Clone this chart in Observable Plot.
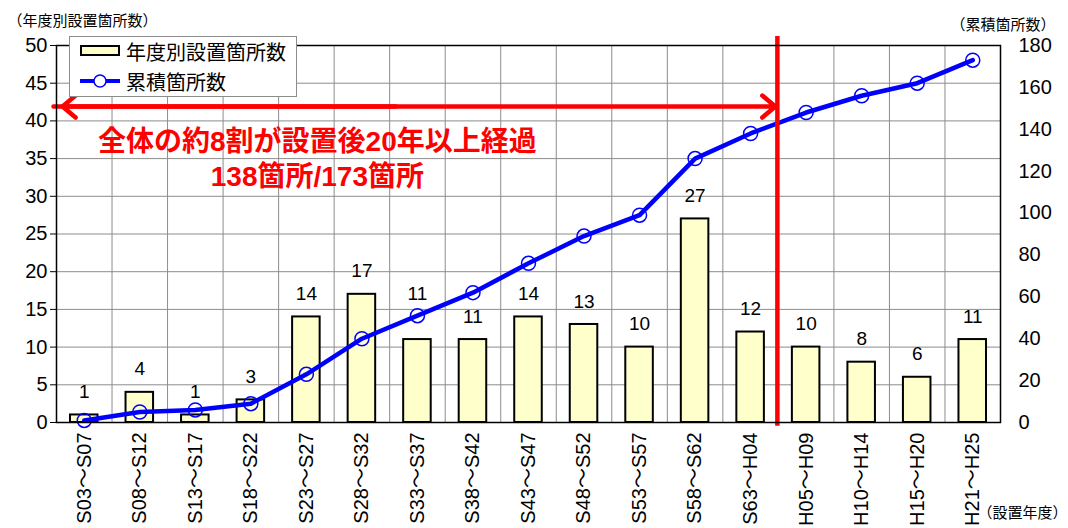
<!DOCTYPE html>
<html><head><meta charset="utf-8">
<script src="https://cdn.jsdelivr.net/npm/d3@7"></script>
<script src="https://cdn.jsdelivr.net/npm/@observablehq/plot@0.6"></script>
<style>
body{margin:0;background:#fff;font-family:"Liberation Sans","Noto Sans CJK JP",sans-serif;}
#wrap{position:relative;width:1068px;height:528px;overflow:hidden;}
#legend{position:absolute;left:69px;top:36px;width:226px;height:59px;border:1px solid #8c8c8c;background:#fff;}
.li{position:absolute;left:10px;height:24px;display:flex;align-items:center;font-size:20px;color:#000;white-space:nowrap;}
.li svg{margin-right:6px;}
</style></head>
<body><div id="wrap"><div id="chart"></div>
<div id="legend">
  <div class="li" style="top:2px;"><svg width="40" height="14"><rect x="1" y="2" width="38" height="9" fill="#ffffcc" stroke="#000" stroke-width="2"/></svg><span id="lg1"></span></div>
  <div class="li" style="top:32px;"><svg width="40" height="16"><line x1="0" y1="8" x2="40" y2="8" stroke="blue" stroke-width="4"/><circle cx="20" cy="8" r="6" fill="#fff" stroke="blue" stroke-width="1.5"/></svg><span id="lg2"></span></div>
</div>
</div>
<script>
const periods = ["S03～S07","S08～S12","S13～S17","S18～S22","S23～S27","S28～S32","S33～S37","S38～S42","S43～S47","S48～S52","S53～S57","S58～S62","S63～H04","H05～H09","H10～H14","H15～H20","H21～H25"];
const annualCounts = [1,4,1,3,14,17,11,11,14,13,10,27,12,10,8,6,11];
const cumulativeCounts = [1,5,6,9,23,40,51,62,76,89,99,126,138,148,156,162,173];
const leftTicks = [0,5,10,15,20,25,30,35,40,45,50];
const rightTicks = [0,20,40,60,80,100,120,140,160,180];
const seriesNames = ["年度別設置箇所数","累積箇所数"];
const leftTitle = "（年度別設置箇所数）";
const rightTitle = "（累積箇所数）";
const xTitle = "（設置年度）";
const annotationLines = ["全体の約8割が設置後20年以上経過","138箇所/173箇所"];
const annotationY = [37.2, 32.5];
const arrowY = 41.9;
const thresholdPeriod = "H05～H09";
const raisedLabelPeriod = "S33～S37";

document.getElementById("lg1").textContent = seriesNames[0];
document.getElementById("lg2").textContent = seriesNames[1];

const data = periods.map((p,i)=>({period:p, count:annualCounts[i], cum:cumulativeCounts[i]}));
const W=1068,H=528,ML=56,MR=68,MT=45,MB=106;
const bw=(W-ML-MR)/periods.length;
const toLeft = v => v*50/180;
const font = '"Liberation Sans","Noto Sans CJK JP",sans-serif';

const chart = Plot.plot({
  width:W,height:H,marginLeft:ML,marginRight:MR,marginTop:MT,marginBottom:MB,
  style:{fontFamily:font,fontSize:"18px",background:"white",color:"black",overflow:"visible"},
  x:{domain:periods,padding:0,round:false,label:null},
  y:{domain:[0,50],label:null},
  marks:[
    Plot.ruleY(leftTicks,{stroke:"#8c8c8c",strokeWidth:1}),
    Plot.ruleX(periods.slice(1),{dx:-bw/2,stroke:"#8c8c8c",strokeWidth:1}),
    Plot.barY(data,{x:"period",y:"count",fill:"#ffffcc",stroke:"black",strokeWidth:2,insetLeft:14,insetRight:14}),
    Plot.text(data.filter(d=>d.period!==raisedLabelPeriod),{x:"period",y:"count",text:d=>String(d.count),dy:-23,fontSize:19,fill:"black"}),
    Plot.text(data.filter(d=>d.period===raisedLabelPeriod),{x:"period",y:"count",text:d=>String(d.count),dy:-46,fontSize:19,fill:"black"}),
    Plot.line(data,{x:"period",y:d=>toLeft(d.cum),stroke:"blue",strokeWidth:4.5}),
    Plot.dot(data,{x:"period",y:d=>toLeft(d.cum),r:7,stroke:"blue",strokeWidth:1.5,fill:"none"}),
    Plot.ruleX([thresholdPeriod],{dx:-bw/2-1,y1:-0.5,y2:51.2,stroke:"red",strokeWidth:4.5}),
    Plot.arrow([0],{x1:()=>periods[6],x2:()=>periods[0],y1:()=>arrowY,y2:()=>arrowY,dx:-bw/2+6,stroke:"red",strokeWidth:4.5,headLength:5.7,headAngle:80}),
    Plot.arrow([0],{x1:()=>periods[0],x2:()=>thresholdPeriod,y1:()=>arrowY,y2:()=>arrowY,dx:-bw/2-3,stroke:"red",strokeWidth:4.5,headLength:5.7,headAngle:80}),
    Plot.text(annotationLines,{x:()=>periods[4],y:(d,i)=>annotationY[i],text:d=>d,dx:11,fontSize:28,fontWeight:"bold",fill:"red"}),
    Plot.frame({stroke:"black",strokeWidth:1.5}),
    Plot.axisY(leftTicks,{anchor:"left",tickSize:6,tickPadding:3,fontSize:20,label:null}),
    Plot.axisY(rightTicks.map(toLeft),{anchor:"right",tickFormat:d=>String(Math.round(d*180/50)),tickSize:0,tickPadding:18,fontSize:20,label:null}),
    Plot.axisX({tickRotate:-90,tickSize:0,tickPadding:10,fontSize:20,label:null}),
    Plot.text([leftTitle],{frameAnchor:"top-left",text:d=>d,dx:-49,dy:-30,textAnchor:"start",fontSize:15}),
    Plot.text([rightTitle],{frameAnchor:"top-right",text:d=>d,dx:55,dy:-26,textAnchor:"end",fontSize:15}),
    Plot.text([xTitle],{frameAnchor:"bottom-right",text:d=>d,dx:67,dy:95,textAnchor:"end",fontSize:15})
  ]
});
document.getElementById("chart").append(chart);
</script>
</body></html>
